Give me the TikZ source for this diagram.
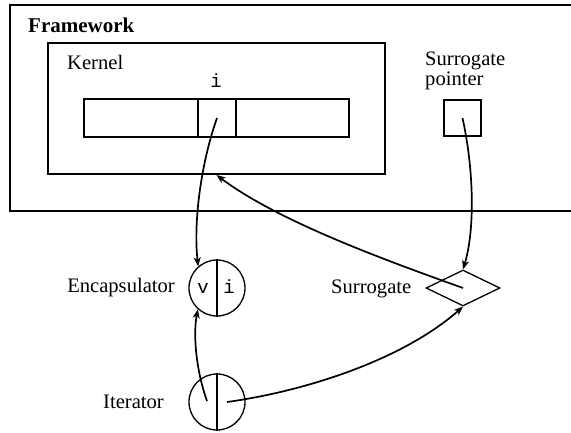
\documentclass[tikz,border=0pt]{standalone}
\usepackage{fontspec}
\setmainfont{Liberation Serif}
\setmonofont{Liberation Mono}
\usetikzlibrary{shapes.geometric,arrows.meta}
\begin{document}
\begin{tikzpicture}[x=1pt,y=-1pt,
  lbl/.style={inner sep=0pt,font=\fontsize{20.6}{22}\selectfont},
  mono/.style={inner sep=0pt,font=\fontsize{19}{22}\selectfont\ttfamily},
  boxline/.style={line width=2pt},
  cellbox/.style={draw,line width=1.8pt,inner sep=0pt},
  ring/.style={draw,circle,line width=1.3pt,minimum size=56pt,inner sep=0pt},
  conn/.style={line width=1.7pt,-{Stealth[length=9pt,width=7pt,inset=2.5pt]}}]
\clip (0,0) rectangle (571,432);
\useasboundingbox (0,0) rectangle (571,432);
% Framework
\draw[line width=2.3pt] (600,5.3) -- (10,5.3) -- (10,211) -- (600,211);
\node[lbl,anchor=base west,font=\fontsize{21}{22}\selectfont\bfseries] (fw) at (28,32) {Framework};
% Kernel
\node[draw,boxline,minimum width=337pt,minimum height=131pt,inner sep=0pt] (kernel) at (216.5,108.5) {};
\node[lbl,anchor=base west] (kl) at (67,69) {Kernel};
\node[mono,anchor=base] (il) at (216,87) {i};
\node[cellbox,minimum width=265pt,minimum height=38pt] (arr) at (216.5,118) {};
\node[cellbox,minimum width=38pt,minimum height=38pt] (cell) at (217,118) {};
% Surrogate pointer
\node[lbl,anchor=base west,align=left,font=\fontsize{20.6}{18}\selectfont] (sp) at (425,85) {Surrogate\\pointer};
\node[draw,boxline,minimum width=37pt,minimum height=36pt,inner sep=0pt] (spbox) at (462.5,118) {};
% Encapsulator
\node[ring] (enc) at (217,288) {};
\draw[line width=1.5pt] (enc.north) -- (enc.south);
\node[mono,anchor=base] (ev) at (203,293) {v};
\node[mono,anchor=base] (ei) at (229,293) {i};
\node[lbl,anchor=base east] (encl) at (175,292) {Encapsulator};
% Iterator
\node[ring] (iter) at (217,402) {};
\draw[line width=1.5pt] (iter.north) -- (iter.south);
\node[lbl,anchor=base east] (iterl) at (164,408) {Iterator};
\coordinate (iL) at (207,401);
\coordinate (iR) at (227,402);
% Surrogate
\node[draw,diamond,line width=1.3pt,minimum width=74pt,minimum height=36pt,inner sep=0pt] (sur) at (463,288) {};
\node[lbl,anchor=base west] (surl) at (331,293) {Surrogate};
% connectors
\draw[conn] (cell.center) .. controls (202,160) and (193,220) .. (enc.131);
\draw[conn] (sur.center) .. controls (382,259) and (278,221) .. (kernel.south);
\draw[conn] (spbox.center) .. controls (474,170) and (475,230) .. (sur.north);
\draw[conn] (iL) .. controls (196,370) and (193,335) .. (enc.228);
\draw[conn] (iR) .. controls (300,392) and (400,362) .. (sur.south);
\end{tikzpicture}
\end{document}
